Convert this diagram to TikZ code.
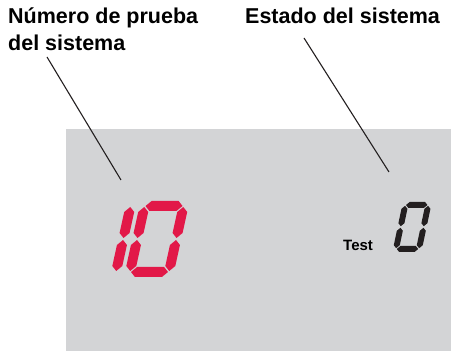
\documentclass[tikz,border=0pt]{standalone}
\usepackage{fontspec}
\setmainfont{Liberation Sans}
\usetikzlibrary{positioning}
\definecolor{lcdgray}{RGB}{211,212,214}
\definecolor{lcdred}{RGB}{226,24,72}
\definecolor{lcdink}{RGB}{35,31,32}
% segment shapes, in the digit's own upright frame
\newcommand{\hsegm}[3]{\fill ({#1+\sgap},#3) -- ({#1+\sgap+\sth/2},{#3+\sth/2}) -- ({#2-\sgap-\sth/2},{#3+\sth/2})
  -- ({#2-\sgap},#3) -- ({#2-\sgap-\sth/2},{#3-\sth/2}) -- ({#1+\sgap+\sth/2},{#3-\sth/2}) -- cycle;}
\newcommand{\vsegm}[3]{\fill (#1,{#2+\sgap}) -- ({#1+\sth/2},{#2+\sgap+\sth/2}) -- ({#1+\sth/2},{#3-\sgap-\sth/2})
  -- (#1,{#3-\sgap}) -- ({#1-\sth/2},{#3-\sgap-\sth/2}) -- ({#1-\sth/2},{#2+\sgap+\sth/2}) -- cycle;}
\newcommand{\lcdsega}{\hsegm{0}{\dw}{\dh}}
\newcommand{\lcdsegb}{\vsegm{\dw}{\dh/2}{\dh}}
\newcommand{\lcdsegc}{\vsegm{\dw}{0}{\dh/2}}
\newcommand{\lcdsegd}{\hsegm{0}{\dw}{0}}
\newcommand{\lcdsege}{\vsegm{0}{0}{\dh/2}}
\newcommand{\lcdsegf}{\vsegm{0}{\dh/2}{\dh}}
\newcommand{\lcdsegg}{\hsegm{0}{\dw}{\dh/2}}
\newcommand{\segdigit}[1]{\foreach \s in {#1}{\csname lcdseg\s\endcsname}}

\begin{document}
\begin{tikzpicture}[x=1pt, y=1pt,
  lbl/.style={font=\bfseries\fontsize{21.5}{28.5}\selectfont, inner sep=0pt, align=left, anchor=base west},
  small/.style={font=\bfseries\fontsize{15}{18}\selectfont, inner sep=0pt, anchor=base west},
  pointer/.style={line width=1.1pt, draw=lcdink}]
\useasboundingbox (0,0) rectangle (451,351);
\fill[lcdgray] (66,0) rectangle (451,222);
\node[lbl] (testno) at (8,327) {Número de prueba};
\node[lbl, below=6.5pt of testno.south west, anchor=north west] (testno2) {del sistema};
\node[lbl] (state) at (245,327) {Estado del sistema};
\node[small] (testtag) at (343,100) {Test};
\coordinate (testfoot) at (47,294);
\coordinate (testtip) at (121,171);
\coordinate (statefoot) at (304,313);
\coordinate (statetip) at (389,179);
\draw[pointer] (testfoot) -- (testtip);
\draw[pointer] (statefoot) -- (statetip);
% red test number
\begin{scope}[shift={(77,79)}, xslant=0.22, fill=lcdred]
  \def\dw{39}\def\dh{66}\def\sth{10}\def\sgap{1}
  \segdigit{b,c}
\end{scope}
\begin{scope}[shift={(130,79)}, xslant=0.22, fill=lcdred]
  \def\dw{39}\def\dh{66}\def\sth{10}\def\sgap{1}
  \segdigit{a,b,c,d,e,f}
\end{scope}
% black state digit
\begin{scope}[shift={(396,102)}, xslant=0.21, fill=lcdink]
  \def\dw{23}\def\dh{44}\def\sth{6}\def\sgap{0.8}
  \segdigit{a,b,c,d,e,f}
\end{scope}
\end{tikzpicture}
\end{document}
